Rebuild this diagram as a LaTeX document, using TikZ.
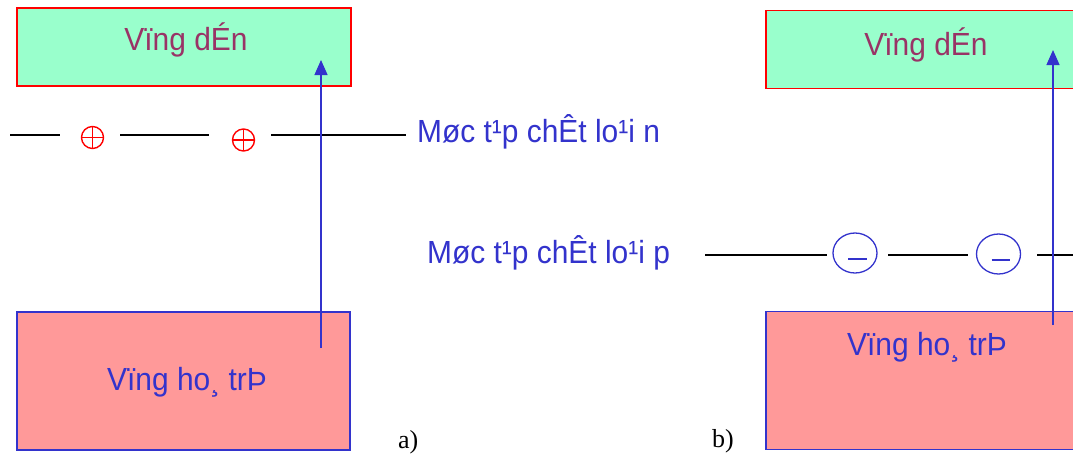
\documentclass[tikz,border=0pt]{standalone}
\usepackage{fontspec}
\setmainfont{Liberation Sans}
\newfontfamily\bandfont[FakeStretch=0.935]{Liberation Sans}
\newfontfamily\labserif{Liberation Serif}
\usetikzlibrary{arrows.meta,shapes.geometric}
\definecolor{bandgreen}{HTML}{99FFCC}
\definecolor{bandpink}{HTML}{FF9999}
\definecolor{myblue}{HTML}{3333CC}
\definecolor{myred}{HTML}{FF0000}
\definecolor{mymaroon}{HTML}{993366}
\tikzset{
  condband/.style={draw=myred, line width=1.6pt, fill=bandgreen, minimum width=#1, minimum height=78pt, inner sep=0pt},
  valband/.style={draw=myblue, line width=1.3pt, fill=bandpink, minimum width=#1, minimum height=138pt, inner sep=0pt},
  bandtxt/.style={font=\bandfont\fontsize{32}{36}\selectfont, anchor=base, inner sep=0pt},
  lvltxt/.style={font=\bandfont\fontsize{32}{36}\selectfont, text=myblue, anchor=base west, inner sep=0pt},
  lvl/.style={line width=1.6pt, black},
  arr/.style={myblue, line width=1.3pt, -{Triangle[length=15pt,width=13pt]}},
  donor/.style={circle, draw=myred, line width=1.4pt, minimum size=22pt, inner sep=0pt,
    path picture={\draw[myred, line width=1.4pt] (path picture bounding box.north) -- (path picture bounding box.south)
      (path picture bounding box.west) -- (path picture bounding box.east);}},
  acceptor/.style={ellipse, draw=myblue, line width=1.3pt, minimum width=44pt, minimum height=40pt, inner sep=0pt},
  minus/.style={myblue, line width=1.3pt},
  sublabel/.style={font=\labserif\fontsize{26}{30}\selectfont, anchor=base west, inner sep=0pt}
}
\begin{document}
\begin{tikzpicture}[x=1pt,y=-1pt]
\useasboundingbox (0,0) rectangle (1073,453);
\clip (0,0) rectangle (1073,453);
% bands (a)
\node[condband=334pt] (cbA) at (184,47) {};
\node[valband=333pt] (vbA) at (183.5,381) {};
\node[bandtxt, text=mymaroon] (cbAt) at (186,50) {Vïng dÉn};
\node[bandtxt, text=myblue] (vbAt) at (187,390) {Vïng ho¸ trÞ};
% bands (b)
\node[condband=340pt] (cbB) at (936,49.5) {};
\node[valband=340pt] (vbB) at (936,380.5) {};
\node[bandtxt, text=mymaroon] (cbBt) at (926,55) {Vïng dÉn};
\node[bandtxt, text=myblue] (vbBt) at (927,355) {Vïng ho¸ trÞ};
% donor level
\coordinate (n1) at (10,135); \coordinate (n2) at (60,135);
\coordinate (n3) at (120,135); \coordinate (n4) at (209,135);
\coordinate (n5) at (271,135); \coordinate (n6) at (406,135);
\draw[lvl] (n1) -- (n2) (n3) -- (n4) (n5) -- (n6);
\node[donor] (d1) at (92.5,137.5) {};
\node[donor] (d2) at (243.5,140) {};
\node[lvltxt] (nlab) at (417,142) {Møc t¹p chÊt lo¹i n};
% acceptor level
\coordinate (p1) at (705,255); \coordinate (p2) at (827,255);
\coordinate (p3) at (888,255); \coordinate (p4) at (968,255);
\coordinate (p5) at (1037,255); \coordinate (p6) at (1080,255);
\draw[lvl] (p1) -- (p2) (p3) -- (p4) (p5) -- (p6);
\node[acceptor] (e1) at (855,253) {};
\node[acceptor] (e2) at (998.5,254) {};
\draw[minus] ([xshift=-7pt,yshift=-6pt]e1.center) -- ([xshift=12pt,yshift=-6pt]e1.center);
\draw[minus] ([xshift=-7pt,yshift=-6pt]e2.center) -- ([xshift=11pt,yshift=-6pt]e2.center);
\node[lvltxt] (plab) at (427,263) {Møc t¹p chÊt lo¹i p};
% arrows
\coordinate (aAs) at (321,348); \coordinate (aAe) at (321,60);
\draw[arr] (aAs) -- (aAe);
\coordinate (aBs) at (1053,325); \coordinate (aBe) at (1053,50);
\draw[arr] (aBs) -- (aBe);
% sub labels
\node[sublabel] (la) at (398,448) {a)};
\node[sublabel] (lb) at (712,447) {b)};
\end{tikzpicture}
\end{document}
